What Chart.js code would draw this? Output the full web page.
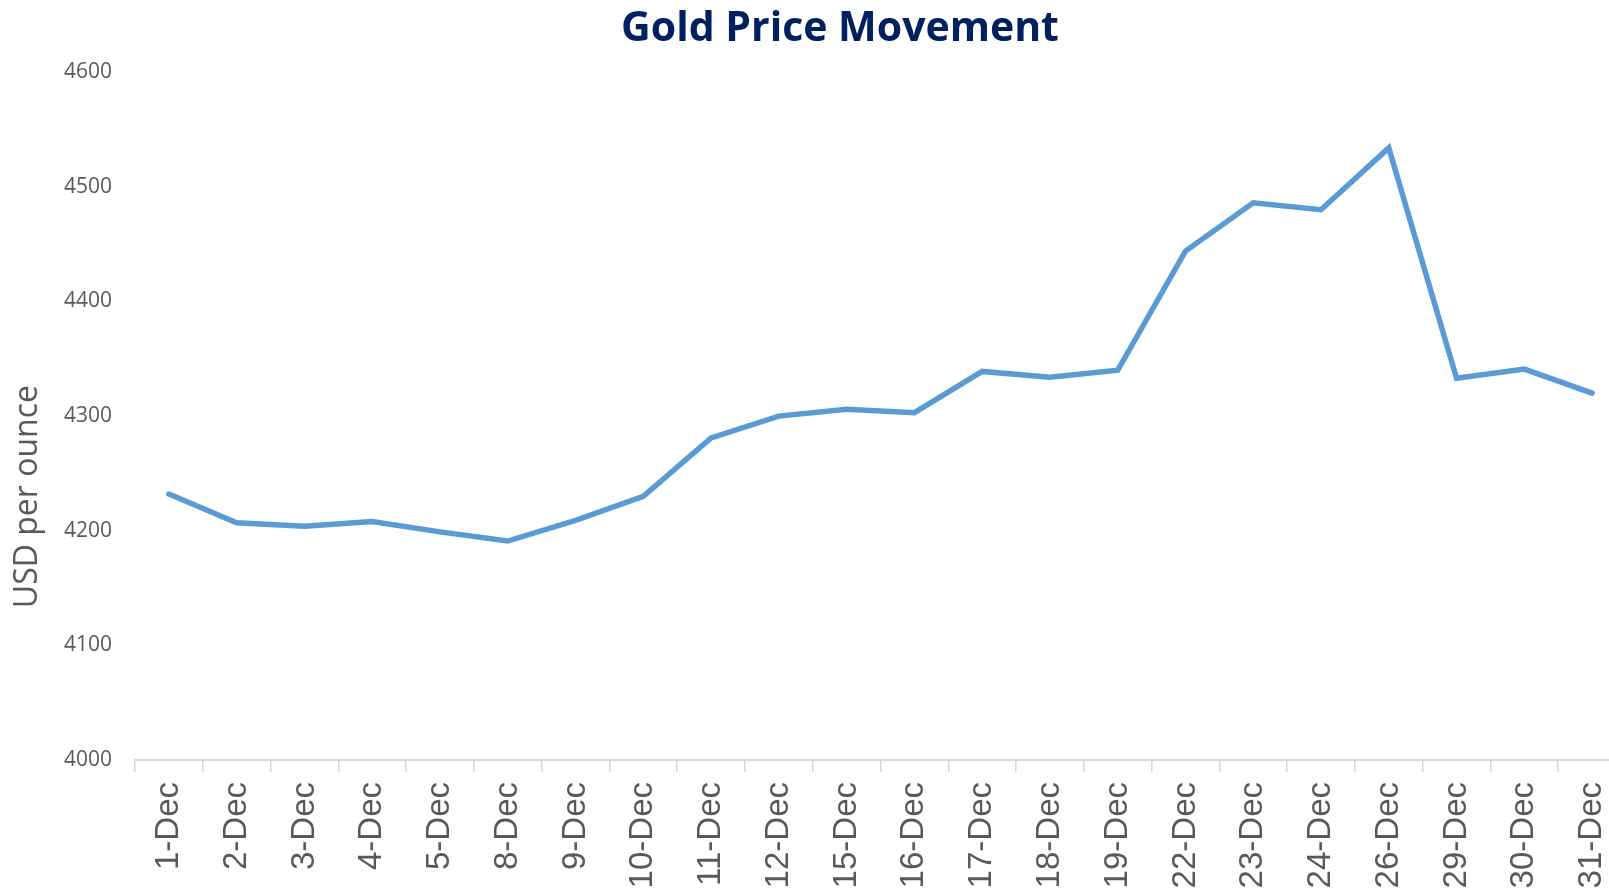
<!DOCTYPE html>
<html>
<head>
<meta charset="utf-8">
<title>Gold Price Movement</title>
<script src="https://cdn.jsdelivr.net/npm/chart.js@4.4.1/dist/chart.umd.min.js"></script>
<style>
    html, body { margin: 0; padding: 0; background: #fff; overflow: hidden; }
    #wrap { width: 1626px; height: 894px; }
</style>
</head>
<body>
<div id="wrap">
    <canvas id="goldChart" width="1626" height="894"></canvas>
</div>
<script>
// december closing prices, USD per ounce
const days = ['1-Dec', '2-Dec', '3-Dec', '4-Dec', '5-Dec', '8-Dec', '9-Dec', '10-Dec', '11-Dec', '12-Dec',
    '15-Dec', '16-Dec', '17-Dec', '18-Dec', '19-Dec', '22-Dec', '23-Dec', '24-Dec', '26-Dec', '29-Dec',
    '30-Dec', '31-Dec'];
const prices = [4232, 4207, 4204, 4208, 4199, 4191, 4209, 4230, 4281, 4300,
    4306, 4303, 4339, 4334, 4340, 4444, 4486, 4480, 4534, 4333,
    4341, 4320];
const yTicks = [4000, 4100, 4200, 4300, 4400, 4500, 4600];

const textGrey = '#595959';
const axisGrey = '#D9D9D9';

// vertical axis caption, sits a bit below the middle of the plot like in excel
const yCaption = {
    id: 'yCaption',
    afterDraw(chart) {
        const ctx = chart.ctx;
        const area = chart.chartArea;
        ctx.save();
        ctx.translate(28, area.top + (area.bottom - area.top) * 0.617);
        ctx.rotate(-Math.PI / 2);
        ctx.font = '32px "Open Sans"';
        ctx.fillStyle = textGrey;
        ctx.textAlign = 'center';
        ctx.textBaseline = 'middle';
        ctx.fillText('USD per ounce', 0, 0);
        ctx.restore();
    }
};

const config = {
    type: 'line',
    data: {
        labels: days,
        datasets: [{
            label: 'Gold',
            data: prices,
            borderColor: '#5B9BD5',
            backgroundColor: '#5B9BD5',
            borderWidth: 5.5,
            borderJoinStyle: 'miter',
            borderCapStyle: 'round',
            pointRadius: 0,
            tension: 0
        }]
    },
    options: {
        responsive: false,
        animation: false,
        layout: {
            padding: { left: 54, right: 0, top: 0, bottom: 0 }
        },
        plugins: {
            legend: { display: false },
            tooltip: { enabled: false },
            title: {
                display: true,
                text: 'Gold Price Movement',
                color: '#002060',
                font: { family: '"Open Sans"', size: 41, weight: 'bold', lineHeight: 1.2 },
                padding: { top: 5, bottom: 18 }
            }
        },
        scales: {
            x: {
                offset: true,
                grid: {
                    offset: true,
                    drawOnChartArea: false,
                    drawTicks: true,
                    tickLength: 12,
                    color: axisGrey,
                    lineWidth: 1.5
                },
                border: { display: true, color: axisGrey, width: 2 },
                ticks: {
                    color: textGrey,
                    font: { family: '"Liberation Sans", Arial', size: 33 },
                    minRotation: 90,
                    maxRotation: 90,
                    autoSkip: false,
                    padding: 10
                },
                afterFit(scale) {
                    scale.height = 134;
                    // the last day runs off the right edge, no room kept for its label
                    scale.paddingLeft = 0;
                    scale.paddingRight = 0;
                }
            },
            y: {
                min: 4000,
                max: 4600,
                afterBuildTicks(scale) { scale.ticks = yTicks.map(v => ({ value: v })); },
                grid: { display: false, drawTicks: false },
                border: { display: false },
                ticks: {
                    color: textGrey,
                    font: { family: '"Open Sans"', size: 21 },
                    padding: 23,
                    callback: (v) => String(v)
                },
                afterFit(scale) { scale.width = 81; }
            }
        }
    },
    plugins: [yCaption]
};

new Chart(document.getElementById('goldChart'), config);
</script>
</body>
</html>
